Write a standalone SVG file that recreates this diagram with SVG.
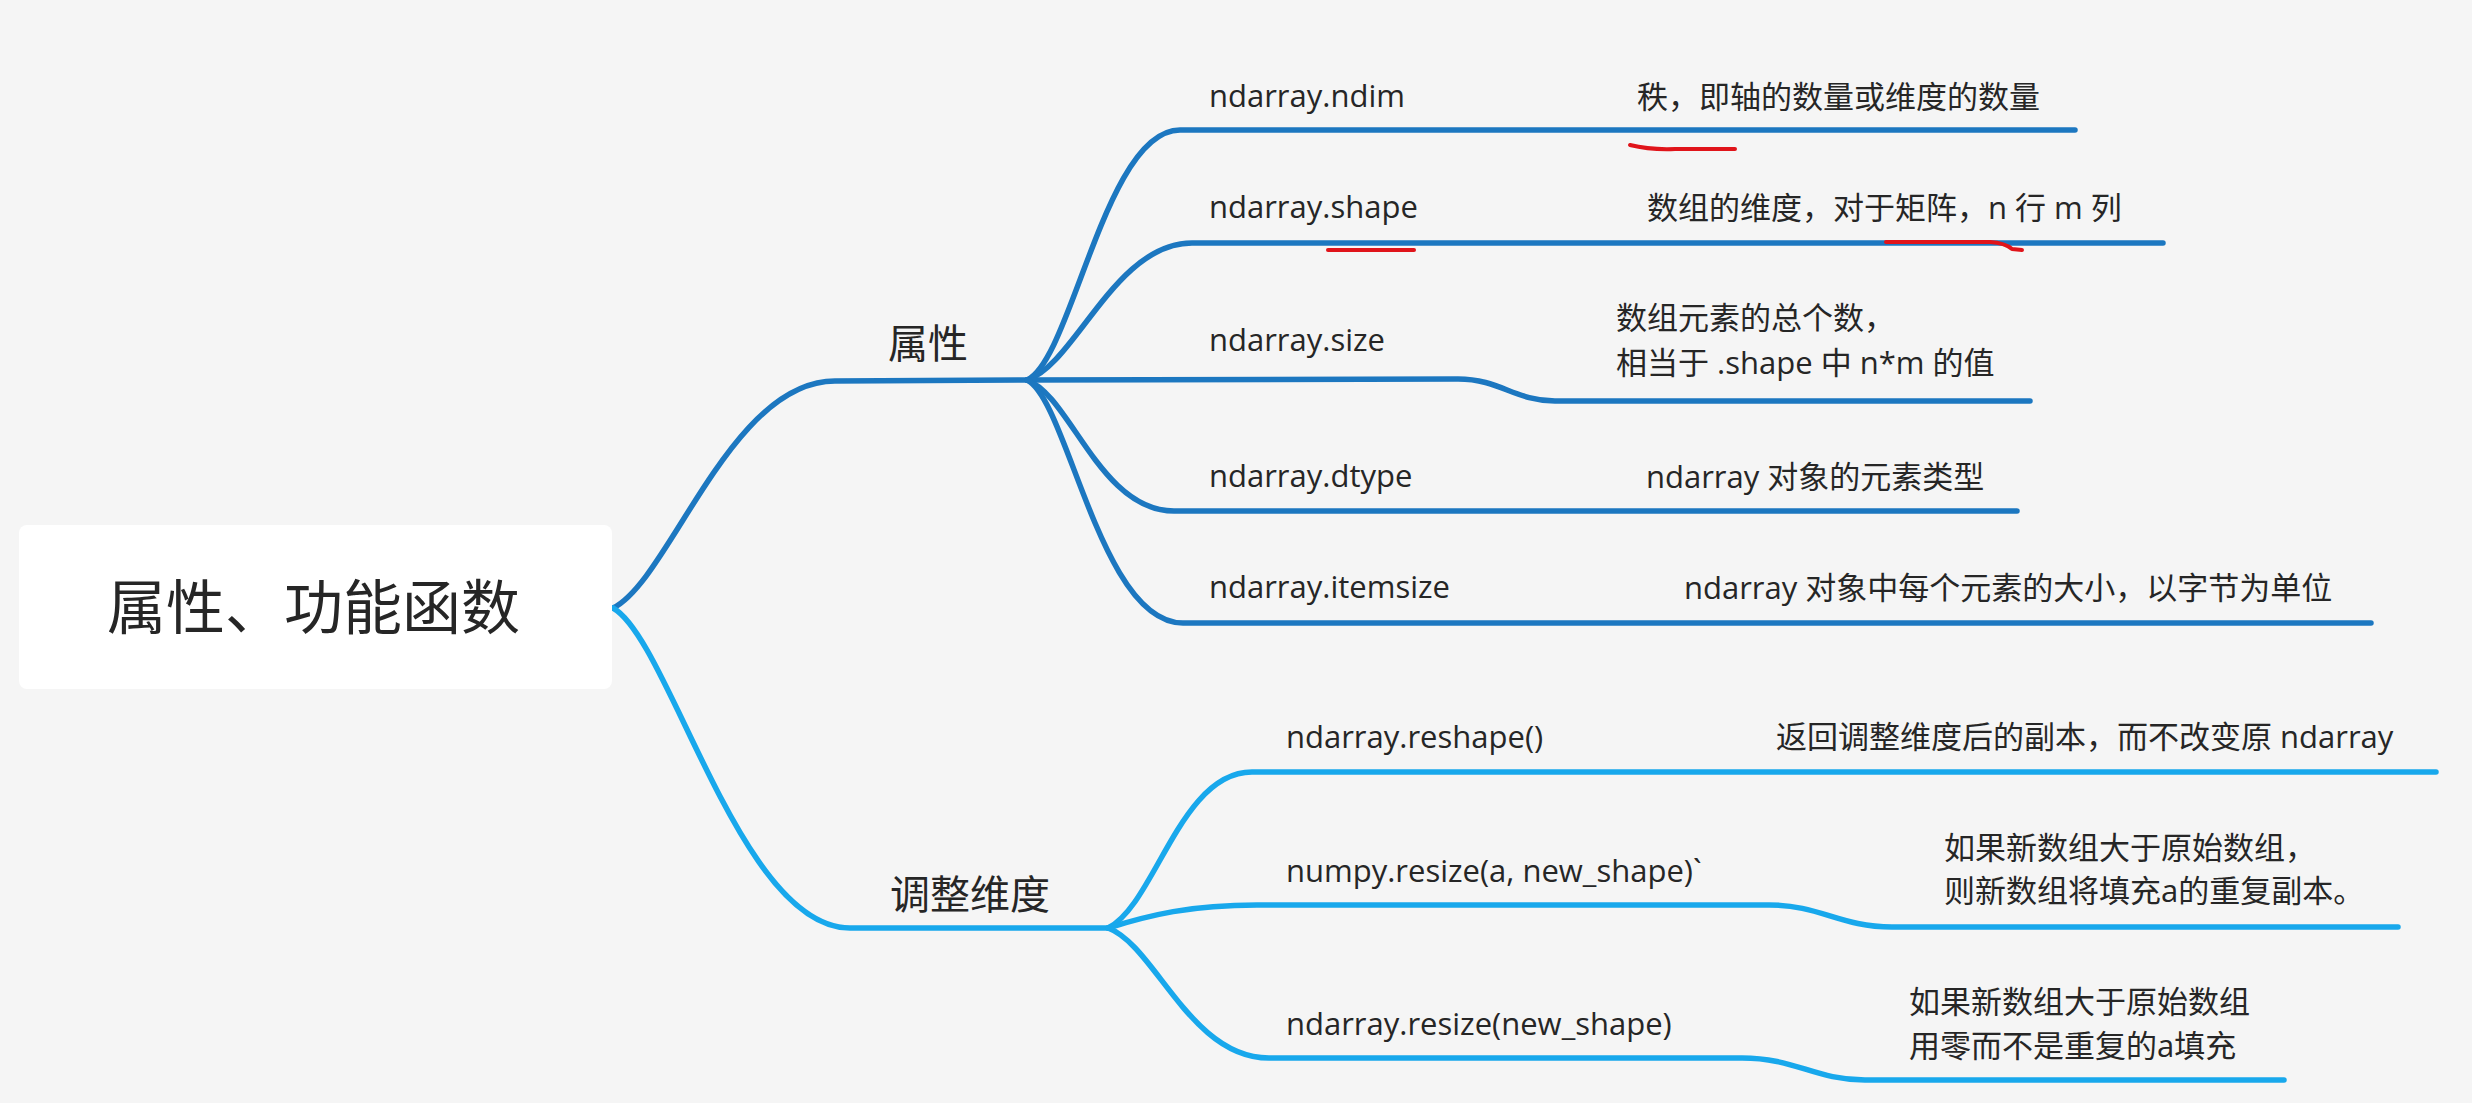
<svg xmlns="http://www.w3.org/2000/svg" width="2472" height="1103" viewBox="0 0 2472 1103">
<style>
.bg{fill:#f5f5f5}
.c1{fill:none;stroke:#1c77c0;stroke-width:5.5;stroke-linecap:round;stroke-linejoin:round}
.c2{fill:none;stroke:#18a8ec;stroke-width:5.5;stroke-linecap:round;stroke-linejoin:round}
.red{fill:none;stroke:#e0141a;stroke-width:4;stroke-linecap:round;stroke-linejoin:round}
.lbl{font-family:"Open Sans","Noto Sans CJK SC",sans-serif;font-size:31px;fill:#262626}
.desc{font-family:"Open Sans","Noto Sans CJK SC",sans-serif;font-size:31px;fill:#262626}
.main{font-family:"Noto Sans CJK SC",sans-serif;font-size:40px;fill:#262626}
.root{font-family:"Noto Sans CJK SC",sans-serif;font-size:59px;fill:#262626}
</style>
<rect class="bg" x="0" y="0" width="2472" height="1103"/>
<g id="connectors">
<path class="c1" d="M613,608 C670,580 730,381 835,381 L1027,380"/>
<path class="c2" d="M613,608 C670,640 740,928 850,928 L1108,928"/>
<path class="c1" d="M1027,380 C1072,360 1105,130 1180,130 L2075,130"/>
<path class="c1" d="M1027,380 C1075,365 1115,243 1192,243 L2163,243"/>
<path class="c1" d="M1027,380 L1458,379 C1500,379 1515,401 1555,401 L2030,401"/>
<path class="c1" d="M1027,380 C1070,395 1100,511 1174,511 L2017,511"/>
<path class="c1" d="M1027,380 C1068,400 1100,623 1183,623 L2371,623"/>
<path class="c2" d="M1108,928 C1155,905 1180,772 1252,772 L2436,772"/>
<path class="c2" d="M1108,928 C1150,915 1190,905 1257,905 L1769,905 C1820,905 1840,927 1892,927 L2398,927"/>
<path class="c2" d="M1108,928 C1155,945 1190,1058 1269,1058 L1742,1058 C1795,1058 1815,1080 1865,1080 L2284,1080"/>
</g>
<g id="root">
<rect x="19" y="525" width="593" height="164" rx="8" fill="#ffffff"/>
<text class="root" x="107" y="629">属性、功能函数</text>
</g>
<g id="attr"><text class="main" x="888" y="358">属性</text></g>
<g id="resize-group"><text class="main" x="890" y="909">调整维度</text></g>
<g id="ndim">
<text class="lbl" x="1209" y="107">ndarray.ndim</text>
<text class="desc" x="1637" y="108">秩，即轴的数量或维度的数量</text>
</g>
<g id="shape">
<text class="lbl" x="1209" y="218">ndarray.shape</text>
<text class="desc" x="1647" y="219">数组的维度，对于矩阵，n 行 m 列</text>
</g>
<g id="size">
<text class="lbl" x="1209" y="351">ndarray.size</text>
<text class="desc" x="1616" y="329">数组元素的总个数，</text>
<text class="desc" x="1616" y="374">相当于 .shape 中 n*m 的值</text>
</g>
<g id="dtype">
<text class="lbl" x="1209" y="487">ndarray.dtype</text>
<text class="desc" x="1646" y="488">ndarray 对象的元素类型</text>
</g>
<g id="itemsize">
<text class="lbl" x="1209" y="598">ndarray.itemsize</text>
<text class="desc" x="1684" y="599">ndarray 对象中每个元素的大小，以字节为单位</text>
</g>
<g id="reshape">
<text class="lbl" x="1286" y="748">ndarray.reshape()</text>
<text class="desc" x="1776" y="748">返回调整维度后的副本，而不改变原 ndarray</text>
</g>
<g id="numpy-resize">
<text class="lbl" x="1286" y="882">numpy.resize(a, new_shape)`</text>
<text class="desc" x="1944" y="859">如果新数组大于原始数组，</text>
<text class="desc" x="1944" y="902">则新数组将填充a的重复副本。</text>
</g>
<g id="ndarray-resize">
<text class="lbl" x="1286" y="1035">ndarray.resize(new_shape)</text>
<text class="desc" x="1909" y="1013">如果新数组大于原始数组</text>
<text class="desc" x="1909" y="1057">用零而不是重复的a填充</text>
</g>
<g id="annotations">
<path class="red" d="M1630,145 Q1650,150 1675,149 L1735,149"/>
<path class="red" d="M1328,250 L1414,250"/>
<path class="red" d="M1886,242 L1990,242 Q2005,243 2012,249 L2022,250"/>
</g>
</svg>
